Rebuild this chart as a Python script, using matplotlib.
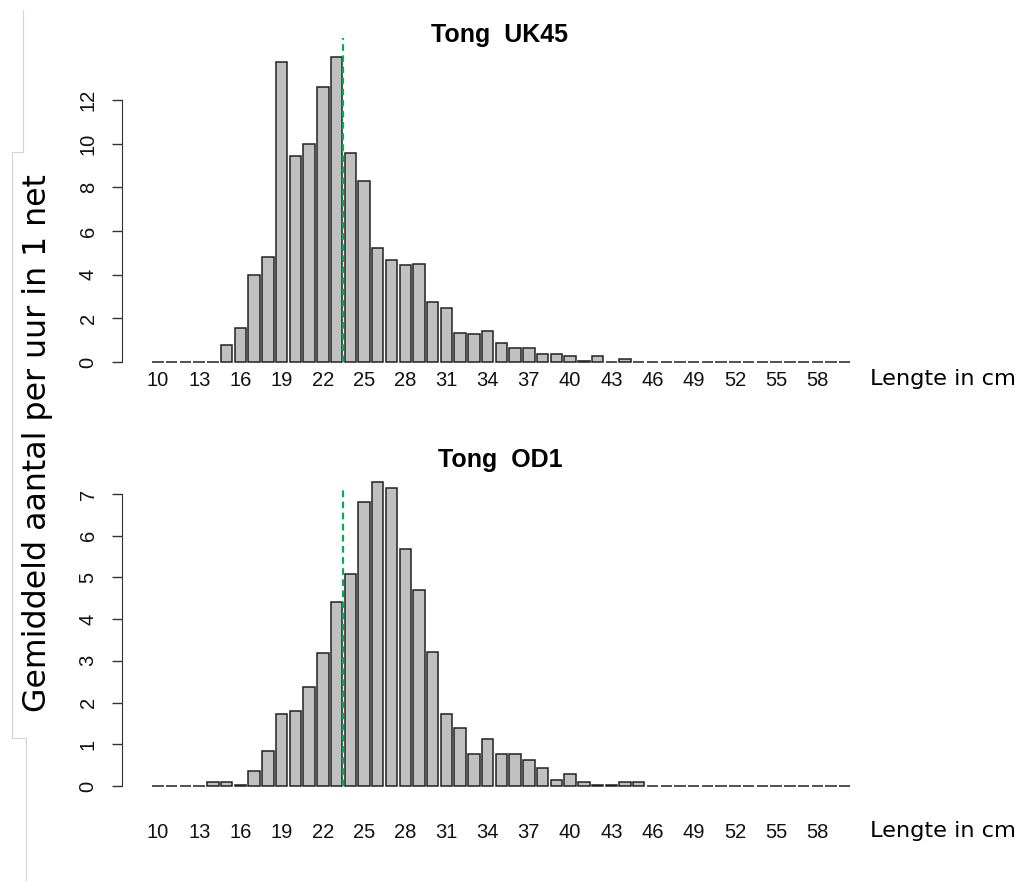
import matplotlib.pyplot as plt
from matplotlib.lines import Line2D

W, H = 1020, 881

lengths = list(range(10, 61))
uk45 = [0, 0, 0, 0, 0, 0.8, 1.56, 4.0, 4.8, 13.75,
        9.43, 9.97, 12.6, 13.98, 9.59, 8.27, 5.21, 4.69, 4.45, 4.5,
        2.75, 2.46, 1.32, 1.26, 1.44, 0.85, 0.64, 0.64, 0.35, 0.35,
        0.29, 0.06, 0.29, 0, 0.12, 0, 0, 0, 0, 0,
        0, 0, 0, 0, 0, 0, 0, 0, 0, 0, 0]
od1 = [0, 0, 0, 0, 0.1, 0.1, 0.03, 0.36, 0.85, 1.72,
       1.8, 2.38, 3.2, 4.4, 5.09, 6.81, 7.3, 7.14, 5.68, 4.7,
       3.22, 1.73, 1.38, 0.76, 1.13, 0.76, 0.76, 0.62, 0.44, 0.14,
       0.28, 0.1, 0.03, 0.02, 0.09, 0.09, 0, 0, 0, 0,
       0, 0, 0, 0, 0, 0, 0, 0, 0, 0, 0]
xticks = list(range(10, 59, 3))
min_size = 23.5

plt.rcParams['font.family'] = 'Liberation Sans'


def fx(px):
    return px / W


def fy(py):
    return 1 - py / H


fig = plt.figure(figsize=(W / 100, H / 100), dpi=100)


def panel(values, base_px, unit_px, ymax, yticks, line_top, xpad, title, title_y, label_y):
    top_px = base_px - ymax * unit_px
    ax = fig.add_axes([fx(122), fy(base_px), fx(886) - fx(122), (base_px - top_px) / H])
    ax.bar(lengths, values, width=0.83, color='#c0c0c0', edgecolor='#222222',
           linewidth=1.1, clip_on=False)
    ax.plot([min_size, min_size], [0, line_top], color='#00b050', lw=1.6,
            ls=(0, (3, 2)), clip_on=False)
    ax.set_xlim(7.38, 63)
    ax.set_ylim(0, ymax)
    ax.set_xticks(xticks)
    ax.set_yticks(yticks)
    ax.tick_params(axis='x', length=0, pad=xpad, labelsize=14.5, colors='#111111')
    ax.tick_params(axis='y', length=7.5, width=1, pad=10, labelsize=14.5,
                   labelrotation=90, color='#333333', labelcolor='#111111')
    for lbl in ax.get_yticklabels():
        lbl.set_va('center')
    for s in ['top', 'right', 'bottom']:
        ax.spines[s].set_visible(False)
    ax.spines['left'].set_bounds(yticks[0], yticks[-1])
    ax.spines['left'].set_color('#333333')
    ax.patch.set_alpha(0)
    fig.text(fx(500), fy(title_y), title, ha='center', va='center',
             fontsize=18, fontweight='bold')
    fig.text(fx(870), fy(label_y), 'Lengte in cm', ha='left', va='center',
             fontsize=16.2, family='DejaVu Sans')
    return ax


panel(uk45, 362, 21.83, 15, [0, 2, 4, 6, 8, 10, 12], 14.86, 6.5,
      'Tong  UK45', 35, 379)
panel(od1, 786, 41.71, 7.5, [0, 1, 2, 3, 4, 5, 6, 7], 7.1, 26.5,
      'Tong  OD1', 460, 831)

fig.text(fx(38), fy(443), 'Gemiddeld aantal per uur in 1 net', rotation=90,
         ha='center', va='center', fontsize=22.8, family='DejaVu Sans')

# faint frame left over from the text box around the y label
xs = [23, 23, 12, 12, 26, 26]
ys = [10, 152, 152, 738, 738, 881]
fig.add_artist(Line2D([fx(x) for x in xs], [fy(y) for y in ys],
                      color='#d4d4d4', lw=0.8))

fig.savefig('out.png', dpi=100)
